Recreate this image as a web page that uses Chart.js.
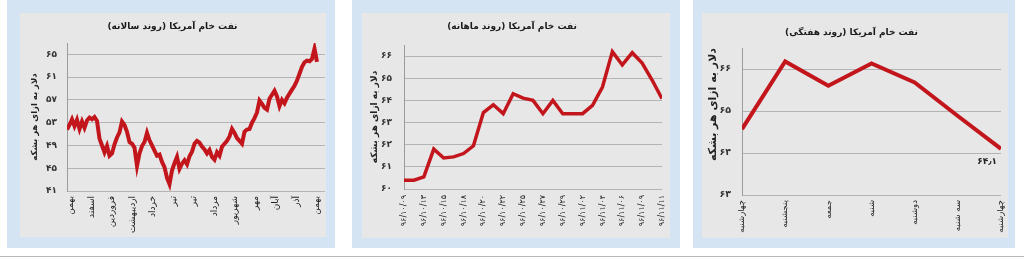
<!DOCTYPE html>
<html lang="fa">
<head>
<meta charset="utf-8">
<script src="https://cdn.jsdelivr.net/npm/chart.js@4.4.1/dist/chart.umd.min.js"></script>
<style>
  body { margin: 0; width: 1024px; height: 260px; background: #fff; position: relative; overflow: hidden; }
  .box { position: absolute; top: 0; height: 248px; background: #d5e4f2; }
  .inner { position: absolute; top: 13px; background: #e7e7e7; }
  .inner canvas { display: block; }
  .rule { position: absolute; left: 0; right: 0; top: 256px; height: 1px; background: #b8b8b8; }
</style>
</head>
<body>
<div class="box" style="left:7px;width:328px"></div>
<div class="box" style="left:352px;width:328px"></div>
<div class="box" style="left:693px;width:322px"></div>
<div class="inner" style="left:20px;width:306px;height:224px"><canvas id="yearly" width="306" height="224"></canvas></div>
<div class="inner" style="left:362px;width:308px;height:225px"><canvas id="monthly" width="308" height="225"></canvas></div>
<div class="inner" style="left:702px;width:306px;height:225px"><canvas id="weekly" width="306" height="225"></canvas></div>
<div class="rule"></div>
<script>
// قیمت نفت خام آمریکا - دلار به ازای هر بشکه
const Y_TITLE = "دلار به ازای هر بشکه";

// روند سالانه
const YEAR_TITLE = "نفت خام آمریکا (روند سالانه)";
const YEAR_MONTHS = ["بهمن", "اسفند", "فروردین", "اردیبهشت", "خرداد", "تیر", "تیر", "مرداد", "شهریور", "مهر", "آبان", "آذر", "بهمن"];
const YEAR_PRICES = [
  51.8, 52.6, 53.6, 52.4, 53.5, 51.9, 53.2, 52.1, 53.4, 53.9,
  53.6, 54.0, 53.3, 50.2, 49.0, 47.8, 48.9, 47.2, 47.6, 49.2,
  50.4, 51.3, 53.2, 52.6, 51.4, 49.6, 49.3, 48.6, 45.4, 47.6,
  48.9, 49.6, 51.2, 49.9, 49.0, 48.1, 47.2, 47.4, 46.1, 45.2,
  43.3, 42.2, 44.6, 45.9, 47.0, 44.9, 45.8, 46.4, 45.7, 47.1,
  47.9, 49.3, 49.8, 49.5, 48.8, 48.3, 47.6, 48.2, 47.0, 46.5,
  47.8, 47.2, 48.8, 49.3, 49.8, 50.6, 51.9, 51.2, 50.3, 49.8,
  49.3, 51.4, 51.8, 51.9, 53.0, 53.8, 54.8, 56.9, 56.3, 55.6,
  55.3, 57.2, 57.9, 58.6, 57.6, 55.9, 57.0, 56.4, 57.4, 58.1,
  58.8, 59.5, 60.4, 61.6, 62.8, 63.6, 63.9, 63.8, 64.2, 66.0,
  63.7
];
const YEAR_TICKS = [41, 45, 49, 53, 57, 61, 65];

// روند ماهانه
const MONTH_TITLE = "نفت خام آمریکا (روند ماهانه)";
const MONTH_DATES = ["۹۶/۱۰/۰۹", "۹۶/۱۰/۱۳", "۹۶/۱۰/۱۵", "۹۶/۱۰/۱۸", "۹۶/۱۰/۲۰", "۹۶/۱۰/۲۲", "۹۶/۱۰/۲۵",
  "۹۶/۱۰/۲۷", "۹۶/۱۰/۲۹", "۹۶/۱۱/۰۲", "۹۶/۱۱/۰۴", "۹۶/۱۱/۰۶", "۹۶/۱۱/۰۹", "۹۶/۱۱/۱۱"];
const MONTH_PRICES = [60.4, 60.4, 60.55, 61.8, 61.4, 61.45, 61.6, 61.95, 63.45, 63.8, 63.4, 64.3, 64.1, 64.0,
  63.4, 64.0, 63.4, 63.4, 63.4, 63.78, 64.6, 66.2, 65.6, 66.15, 65.68, 64.92, 64.08];
const MONTH_TICKS = [60, 61, 62, 63, 64, 65, 66];

// روند هفتگی
const WEEK_TITLE = "نفت خام آمریکا (روند هفتگی)";
const WEEK_DAYS = ["چهارشنبه", "پنجشنبه", "جمعه", "شنبه", "دوشنبه", "سه شنبه", "چهارشنبه"];
const WEEK_PRICES = [64.57, 66.18, 65.6, 66.13, 65.68, 64.88, 64.1];
const WEEK_TICKS = [63, 64, 65, 66];
const WEEK_LAST = "۶۴٫۱";

const RED = "#c3161c";
const FA = "۰۱۲۳۴۵۶۷۸۹";
const toFa = s => String(s).replace(/\d/g, d => FA[d]);

Chart.defaults.font.family = "'DejaVu Sans', sans-serif";
Chart.defaults.color = "#222";

function priceChart(id, c) {
  return new Chart(document.getElementById(id), {
    type: "line",
    data: {
      datasets: [{
        data: c.values.map((v, i) => ({ x: i, y: v })),
        borderColor: RED,
        borderWidth: c.lineWidth,
        pointRadius: 0,
        tension: 0,
        fill: false
      }]
    },
    options: {
      responsive: false,
      animation: false,
      layout: { padding: { left: 0, right: c.padRight, top: 0, bottom: 0 } },
      plugins: {
        legend: { display: false },
        tooltip: { enabled: false },
        title: {
          display: true,
          text: c.title,
          color: "#1a1a1a",
          font: { size: c.titleSize, weight: "bold" },
          padding: { top: c.titleTop, bottom: c.titleBottom }
        }
      },
      scales: {
        x: {
          type: "linear",
          min: 0,
          max: c.xMax,
          afterBuildTicks: s => { s.ticks = c.xLabels.map((_, k) => ({ value: c.xTickAt(k) })); },
          afterFit: s => { s.height = c.xHeight; s.paddingLeft = 0; s.paddingRight = 0; },
          grid: { display: false, drawTicks: false },
          border: { display: false },
          ticks: {
            autoSkip: false,
            minRotation: 90,
            maxRotation: 90,
            padding: c.xPad,
            color: "#222",
            font: { size: c.xFont },
            callback: (v, k) => c.xLabels[k]
          }
        },
        y: {
          min: c.yMin,
          max: c.yMax,
          afterBuildTicks: s => { s.ticks = c.yTicks.map(v => ({ value: v })); },
          afterFit: s => { s.width = c.yWidth; s.paddingTop = 0; s.paddingBottom = 0; },
          grid: { color: "#b4b4b4", lineWidth: 1, drawTicks: false },
          border: { display: true, color: "#9c9c9c", width: 1 },
          ticks: {
            padding: c.yPad,
            color: "#333",
            font: { size: c.yFont, weight: "bold" },
            callback: v => toFa(v)
          },
          title: {
            display: true,
            text: Y_TITLE,
            align: c.yTitleAlign || "center",
            color: "#222",
            font: { size: c.yTitleSize, weight: "bold" },
            padding: { top: c.yTitlePad, bottom: 0 }
          }
        }
      }
    },
    plugins: c.plugins || []
  });
}

priceChart("yearly", {
  title: YEAR_TITLE, titleSize: 9, titleTop: 8.6, titleBottom: 10.6,
  values: YEAR_PRICES, lineWidth: 4,
  xLabels: YEAR_MONTHS, xMax: 103.2, xTickAt: k => 1.6 + k * 8.2,
  xHeight: 46, xPad: 5, xFont: 9,
  yMin: 41, yMax: 67, yTicks: YEAR_TICKS, yWidth: 47, yPad: 10, yFont: 9,
  yTitleSize: 8.5, yTitlePad: 9.9, padRight: 1
});

priceChart("monthly", {
  title: MONTH_TITLE, titleSize: 9, titleTop: 8.6, titleBottom: 12.6,
  values: MONTH_PRICES, lineWidth: 3.5,
  xLabels: MONTH_DATES, xMax: MONTH_PRICES.length - 1, xTickAt: k => k * 2,
  xHeight: 49, xPad: 6, xFont: 8,
  yMin: 60, yMax: 66.5, yTicks: MONTH_TICKS, yWidth: 42, yPad: 12, yFont: 9,
  yTitleSize: 9, yTitlePad: 7.6, padRight: 8
});

const lastValueLabel = {
  id: "lastValueLabel",
  afterDatasetsDraw(chart) {
    const pts = chart.getDatasetMeta(0).data;
    const p = pts[pts.length - 1];
    const ctx = chart.ctx;
    ctx.save();
    ctx.font = "bold 9px 'DejaVu Sans'";
    ctx.fillStyle = "#222";
    ctx.textAlign = "right";
    ctx.textBaseline = "middle";
    ctx.fillText(WEEK_LAST, p.x - 4, p.y + 13);
    ctx.restore();
  }
};

priceChart("weekly", {
  title: WEEK_TITLE, titleSize: 9, titleTop: 14.6, titleBottom: 9.6,
  values: WEEK_PRICES, lineWidth: 4,
  xLabels: WEEK_DAYS, xMax: WEEK_PRICES.length - 1, xTickAt: k => k,
  xHeight: 43, xPad: 5, xFont: 8.5,
  yMin: 63, yMax: 66.5, yTicks: WEEK_TICKS, yWidth: 40, yPad: 11, yFont: 9.5,
  yTitleSize: 11, yTitlePad: 4.4, yTitleAlign: "end", padRight: 7,
  plugins: [lastValueLabel]
});
</script>
</body>
</html>
